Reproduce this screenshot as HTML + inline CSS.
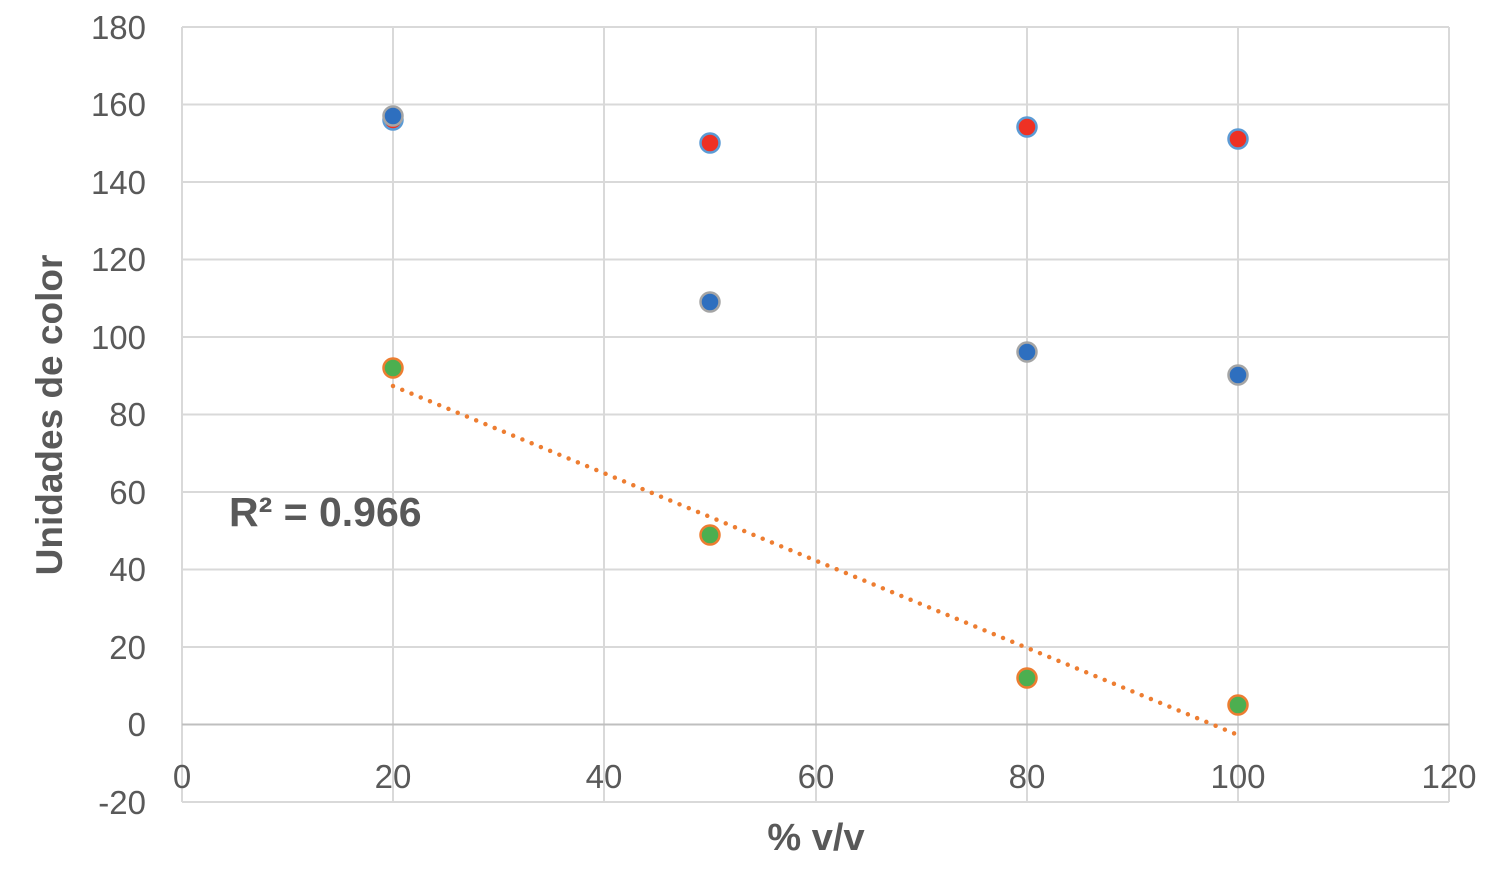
<!DOCTYPE html>
<html><head><meta charset="utf-8"><style>body{margin:0;background:#fff}svg{display:block}</style></head><body>
<svg width="1499" height="869" xmlns="http://www.w3.org/2000/svg" font-family="Liberation Sans, sans-serif">
<g stroke="#d9d9d9" stroke-width="2">
<line x1="182" y1="27" x2="1449" y2="27"/><line x1="182" y1="104.5" x2="1449" y2="104.5"/><line x1="182" y1="182" x2="1449" y2="182"/><line x1="182" y1="259.5" x2="1449" y2="259.5"/><line x1="182" y1="337" x2="1449" y2="337"/><line x1="182" y1="414.5" x2="1449" y2="414.5"/><line x1="182" y1="492" x2="1449" y2="492"/><line x1="182" y1="569.5" x2="1449" y2="569.5"/><line x1="182" y1="647" x2="1449" y2="647"/><line x1="182" y1="802" x2="1449" y2="802"/>
<line x1="182" y1="27" x2="182" y2="802"/><line x1="393" y1="27" x2="393" y2="802"/><line x1="604" y1="27" x2="604" y2="802"/><line x1="816" y1="27" x2="816" y2="802"/><line x1="1027" y1="27" x2="1027" y2="802"/><line x1="1238" y1="27" x2="1238" y2="802"/><line x1="1449" y1="27" x2="1449" y2="802"/>
</g>
<line x1="182" y1="724.5" x2="1449" y2="724.5" stroke="#bfbfbf" stroke-width="2"/>
<g font-size="33" fill="#595959" text-anchor="end">
<text x="146" y="39">180</text><text x="146" y="116">160</text><text x="146" y="194">140</text><text x="146" y="271">120</text><text x="146" y="349">100</text><text x="146" y="426">80</text><text x="146" y="504">60</text><text x="146" y="581">40</text><text x="146" y="659">20</text><text x="146" y="736">0</text><text x="146" y="814">-20</text>
</g>
<g font-size="33" fill="#595959" text-anchor="middle">
<text x="182" y="788">0</text><text x="393" y="788">20</text><text x="604" y="788">40</text><text x="816" y="788">60</text><text x="1027" y="788">80</text><text x="1238" y="788">100</text><text x="1449" y="788">120</text>
</g>
<text x="816" y="850" font-size="38" font-weight="bold" fill="#595959" text-anchor="middle">% v/v</text>
<text transform="translate(62,415) rotate(-90)" font-size="37" font-weight="bold" fill="#595959" text-anchor="middle">Unidades de color</text>
<text x="229" y="526" font-size="41" font-weight="bold" fill="#595959">R² = 0.966</text>
<line x1="393" y1="386" x2="1238" y2="735" stroke="#ed7d31" stroke-width="4.5" stroke-dasharray="0,10" stroke-linecap="round"/>
<g fill="#ee3124" stroke="#5b9bd5" stroke-width="2.5">
<circle cx="393" cy="120" r="9.5"/><circle cx="710" cy="143" r="9.5"/><circle cx="1027" cy="127" r="9.5"/><circle cx="1238" cy="139" r="9.5"/>
</g>
<g fill="#2e6fbf" stroke="#a5a5a5" stroke-width="2.5">
<circle cx="393" cy="116" r="9.5"/><circle cx="710" cy="302" r="9.5"/><circle cx="1027" cy="352" r="9.5"/><circle cx="1238" cy="375" r="9.5"/>
</g>
<g fill="#4caf50" stroke="#ed7d31" stroke-width="2.5">
<circle cx="393" cy="368" r="9.5"/><circle cx="710" cy="535" r="9.5"/><circle cx="1027" cy="678" r="9.5"/><circle cx="1238" cy="705" r="9.5"/>
</g>
</svg>
</body></html>
